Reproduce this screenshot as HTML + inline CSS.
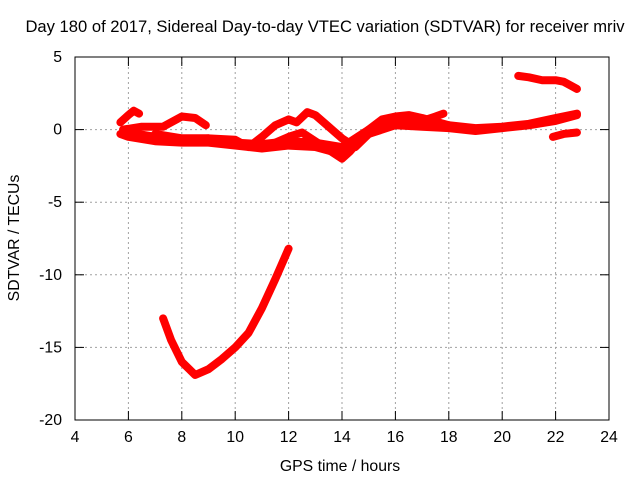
<!DOCTYPE html>
<html><head><meta charset="utf-8"><style>
body{margin:0;background:#fff}
svg text{font-family:"Liberation Sans",sans-serif;font-size:15.8px;fill:#000}
</style></head><body>
<svg width="640" height="480" xmlns="http://www.w3.org/2000/svg">
<text x="325" y="32" text-anchor="middle" style="font-size:16.6px">Day 180 of 2017, Sidereal Day-to-day VTEC variation (SDTVAR) for receiver mriv</text>
<text x="340" y="471" text-anchor="middle">GPS time / hours</text>
<text transform="translate(19,238) rotate(-90)" text-anchor="middle">SDTVAR / TECUs</text>
<g id="grid"></g><g id="ticks"></g><g id="data"></g>
<rect x="75" y="57" width="534" height="363" fill="none" stroke="#000"/>
</svg>
<script>
const xTicks=[4,6,8,10,12,14,16,18,20,22,24];
const yTicks=[5,0,-5,-10,-15,-20];
const seriesArc=[[7.3,-13],[7.6,-14.5],[8,-16],[8.5,-16.9],[9,-16.5],[9.5,-15.8],[10,-15],[10.5,-14],[11,-12.3],[11.5,-10.3],[12,-8.2]];
const seriesTop=[[20.6,3.7],[21,3.6],[21.5,3.4],[22,3.4],[22.3,3.3],[22.8,2.8]];
const seriesRight=[[21.9,-0.5],[22.3,-0.3],[22.8,-0.2]];
const seriesMain=[[5.7,-0.3],[6,-0.5],[7,-0.8],[8,-0.9],[9,-0.9],[10,-1.1],[11,-1.3],[12,-1.1],[13,-1.2],[14,-1.7],[14.3,-1.3],[15,-0.3],[16,0.3],[17,0.2],[18,0.1],[19,-0.1],[20,0.1],[21,0.3],[22,0.6],[22.8,1.0]];
const seriesEarly=[[5.7,0.5],[6,1.0],[6.2,1.3],[6.4,1.1]];
const seriesMorning=[[5.8,0],[6.5,0.2],[7.3,0.2],[7.8,0.7],[8,0.9],[8.5,0.8],[8.9,0.3]];
const seriesMid=[[7,-0.3],[8,-0.6],[9,-0.6],[10,-0.7],[10.5,-1.2],[11,-0.5],[11.5,0.3],[12,0.7],[12.3,0.5],[12.7,1.2],[13,1.0],[13.5,0.2],[14,-0.6],[14.5,-1.2],[15,-0.3],[16,0.5],[16.5,0.8],[17,0.6],[17.5,0.9],[17.8,1.1]];
const seriesAfternoon=[[11.5,-0.9],[12,-0.5],[12.5,-0.2],[13,-0.8],[13.5,-1.4],[14,-2.0],[14.3,-1.5],[15,0],[15.5,0.7],[16,0.9],[16.5,1.0],[17,0.8],[18,0.3]];
const seriesBand=[[6,-0.2],[7,-0.5],[8,-0.7],[9,-0.6],[10,-0.9],[11,-1.0],[12,-0.8],[13,-0.9],[14,-1.2],[15,0],[16,0.5],[17,0.4],[18,0.3],[19,0.1],[20,0.2],[21,0.4],[22,0.8],[22.8,1.1]];
const NS="http://www.w3.org/2000/svg";
const X=v=>75+(v-4)*534/20, Y=v=>57+(5-v)*363/25;
const grid=document.getElementById('grid'),ticks=document.getElementById('ticks'),data=document.getElementById('data');
function mk(tag,attrs,parent){const e=document.createElementNS(NS,tag);for(const k in attrs)e.setAttribute(k,attrs[k]);parent.appendChild(e);return e;}
xTicks.forEach(t=>{const x=X(t);
 if(t>4&&t<24){const l=mk('line',{x1:x,x2:x,y1:57,y2:420,stroke:'#a0a0a0','stroke-dasharray':'2,3'},grid);
 
 }
 mk('line',{x1:x,x2:x,y1:420,y2:411,stroke:'#000'},ticks);mk('line',{x1:x,x2:x,y1:57,y2:66,stroke:'#000'},ticks);
 const tx=mk('text',{x:x,y:442,'text-anchor':'middle'},ticks);tx.textContent=t;
 
 });
yTicks.forEach(t=>{const y=Y(t);
 if(t<5&&t>-20){const l=mk('line',{x1:75,x2:609,y1:y,y2:y,stroke:'#a0a0a0','stroke-dasharray':'2,3'},grid);
 
 }
 mk('line',{x1:75,x2:84,y1:y,y2:y,stroke:'#000'},ticks);mk('line',{x1:609,x2:600,y1:y,y2:y,stroke:'#000'},ticks);
 const tx=mk('text',{x:62,y:y+5,'text-anchor':'end'},ticks);tx.textContent=t;
 
 });
[seriesArc,seriesTop,seriesRight,seriesMain,seriesBand,seriesEarly,seriesMorning,seriesMid,seriesAfternoon].forEach(s=>{
 const p=mk('polyline',{points:s.map(d=>X(d[0])+','+Y(d[1])).join(' '),fill:'none',stroke:'#f00','stroke-width':8,'stroke-linejoin':'round','stroke-linecap':'round'},data);
 
 });
</script>
</body></html>
